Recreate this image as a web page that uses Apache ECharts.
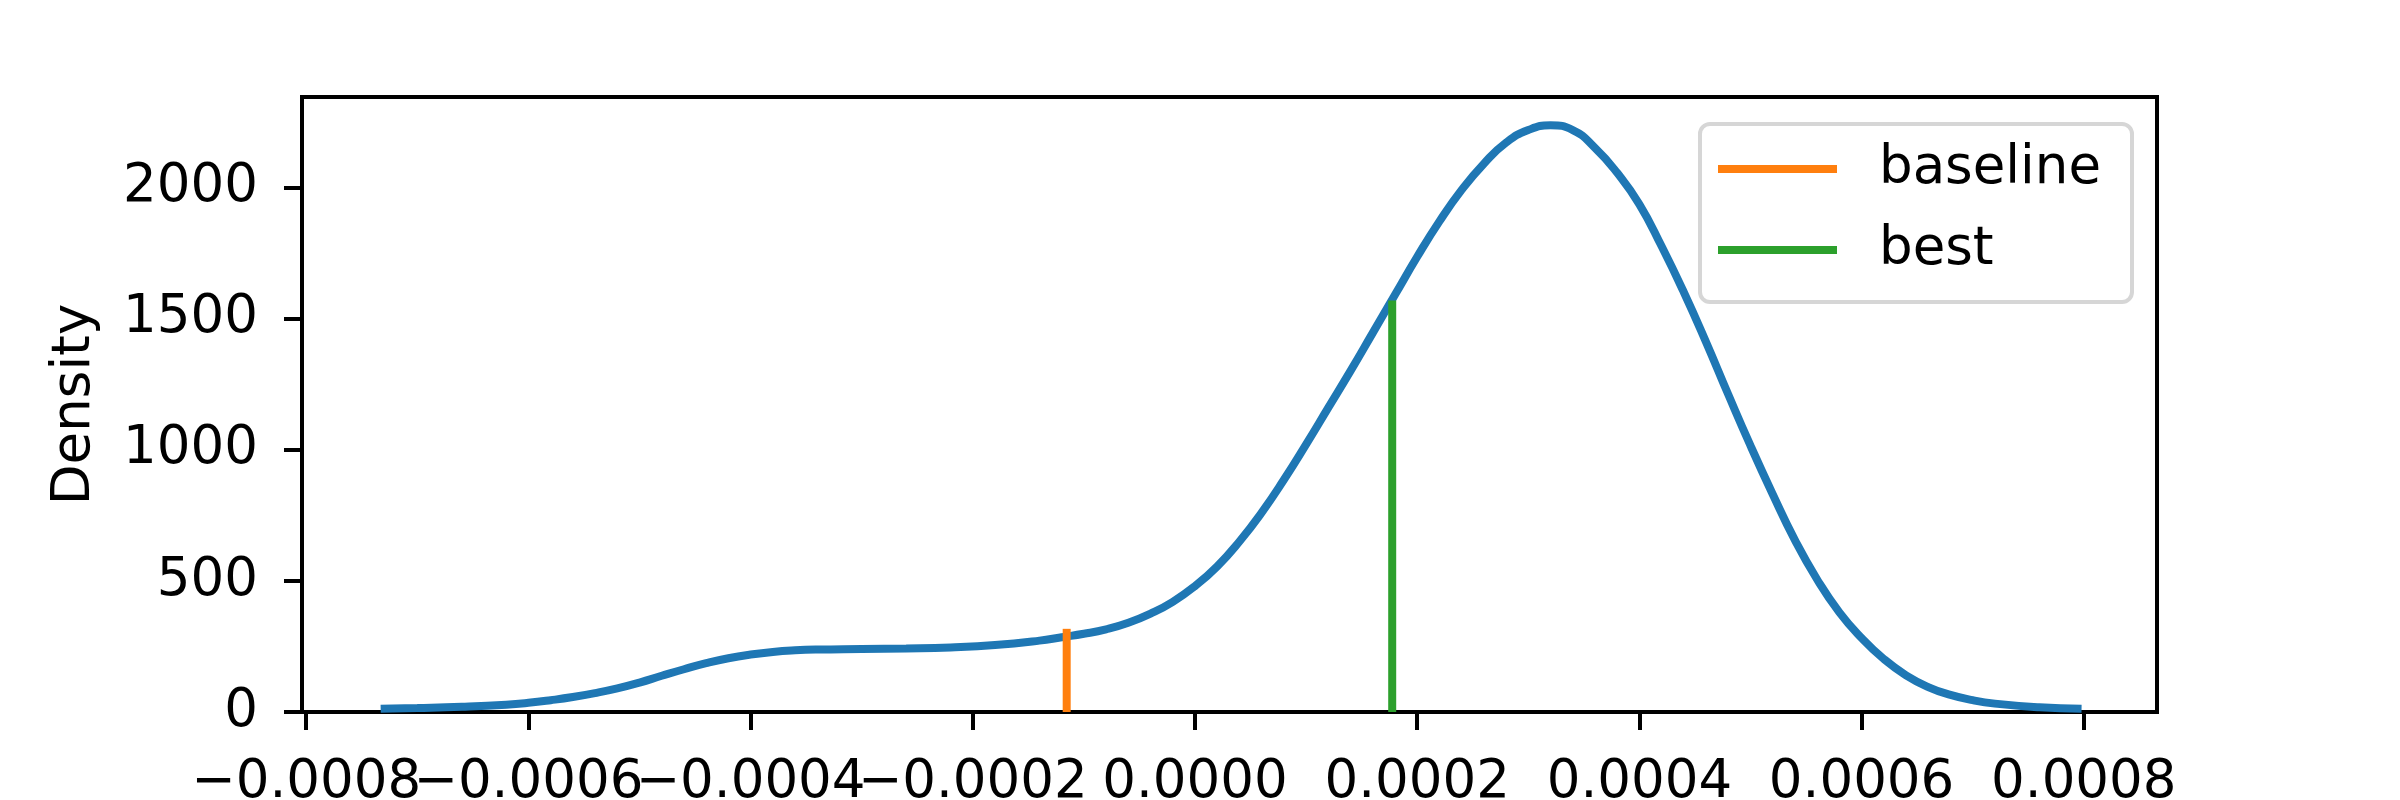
<!DOCTYPE html>
<html>
<head>
<meta charset="utf-8">
<script src="https://cdn.jsdelivr.net/npm/echarts@6/dist/echarts.min.js"></script>
<style>
  html, body { margin: 0; padding: 0; background: #fff; }
  #chart { width: 2400px; height: 800px; }
</style>
</head>
<body>
<div id="chart"></div>
<script>
// ---- data ----
const kdeX = [-0.000733, -0.000700, -0.000660, -0.000620, -0.000600, -0.000580, -0.000560, -0.000540,
  -0.000520, -0.000500, -0.000480, -0.000460, -0.000440, -0.000420, -0.000400, -0.000380, -0.000360,
  -0.000340, -0.000300, -0.000260, -0.000220, -0.000180, -0.000140, -0.000120, -0.000100, -0.000080,
  -0.000060, -0.000040, -0.000020, 0.000000, 0.000020, 0.000040, 0.000060, 0.000080, 0.000100,
  0.000120, 0.000140, 0.000160, 0.000180, 0.000200, 0.000220, 0.000240, 0.000260, 0.000280, 0.000300,
  0.000320, 0.000340, 0.000360, 0.000380, 0.000400, 0.000420, 0.000440, 0.000460, 0.000480, 0.000500,
  0.000520, 0.000540, 0.000560, 0.000580, 0.000600, 0.000620, 0.000640, 0.000660, 0.000680, 0.000700,
  0.000720, 0.000760, 0.000798];
const kdeY = [12, 15, 20, 28, 35, 45, 57, 72,
  90, 112, 138, 163, 186, 205, 219, 229, 235,
  238, 240, 242, 246, 255, 272, 285, 298, 315,
  340, 375, 420, 480, 555, 650, 760, 885, 1020,
  1160, 1300, 1445, 1590, 1735, 1870, 1990, 2090, 2170, 2218,
  2236, 2218, 2150, 2055, 1935, 1775, 1600, 1410, 1210, 1015,
  830, 655, 505, 380, 282, 202, 140, 95, 65, 45,
  32, 18, 12];

const legendNames = ['baseline', 'best'];
const markerX = [-0.0001155, 0.0001775];
const markerTop = [317, 1568];

const xTicks = [-0.0008, -0.0006, -0.0004, -0.0002, 0, 0.0002, 0.0004, 0.0006, 0.0008];
const xTickLabels = ['\u22120.0008', '\u22120.0006', '\u22120.0004', '\u22120.0002', '0.0000',
  '0.0002', '0.0004', '0.0006', '0.0008'];
const yTicks = [0, 500, 1000, 1500, 2000];
const yTickLabels = ['0', '500', '1000', '1500', '2000'];
const yAxisName = 'Density';

// ---- build chart ----
const FONT = 'DejaVu Sans';
const FS = 53;
const X_MIN = -0.0008038, X_MAX = 0.0008659;
const kdePoints = kdeX.map((x, i) => [x, kdeY[i]]);
const markerColors = ['#ff7f0e', '#2ca02c'];

function lookup(ticks, labels, v) {
  const i = ticks.findIndex(t => Math.abs(t - v) < 1e-9 * Math.max(1, Math.abs(t)));
  return i >= 0 ? labels[i] : '';
}

// labels split over two coincident axes so adjacent overlapping labels are not auto-hidden
const xTicksEven = xTicks.filter((_, i) => i % 2 === 0);
const xTicksOdd = xTicks.filter((_, i) => i % 2 === 1);

function xAxisDef(labelValues, showTicks) {
  return {
    type: 'value',
    gridIndex: 0,
    position: 'bottom',
    offset: 0,
    min: X_MIN, max: X_MAX,
    axisLine: { show: false, onZero: false },
    splitLine: { show: false },
    axisTick: { show: showTicks, length: 18, lineStyle: { color: '#000', width: 4 }, customValues: xTicks },
    axisLabel: {
      show: true, customValues: labelValues, interval: 0, hideOverlap: false,
      showMinLabel: true, showMaxLabel: true,
      margin: 44, fontFamily: FONT, fontSize: FS, lineHeight: 54, color: '#000',
      formatter: v => lookup(xTicks, xTickLabels, v)
    }
  };
}

const markerSeries = legendNames.map((name, i) => ({
  name: name,
  type: 'line',
  xAxisIndex: 0,
  data: [[markerX[i], 0], [markerX[i], markerTop[i]]],
  showSymbol: false,
  symbol: 'none',
  lineStyle: { color: markerColors[i], width: 8, cap: 'butt' },
  itemStyle: { color: markerColors[i] },
  z: 3,
  animation: false
}));

const chart = echarts.init(document.getElementById('chart'), null, { renderer: 'canvas' });
chart.setOption({
  animation: false,
  backgroundColor: '#ffffff',
  textStyle: { fontFamily: FONT },
  grid: {
    left: 302, right: 243, top: 97, bottom: 88,
    containLabel: false,
    outerBoundsMode: 'none',
    show: true, borderColor: '#000000', borderWidth: 4, backgroundColor: 'transparent'
  },
  graphic: [{
    type: 'rect',
    z: 3,
    shape: { x: 1700, y: 124, width: 432, height: 178, r: 10 },
    style: { fill: 'rgba(255,255,255,0.8)', stroke: '#d6d6d6', lineWidth: 4 }
  }],
  legend: {
    data: legendNames.map(n => ({ name: n, icon: 'rect' })),
    orient: 'vertical',
    left: 1718, top: 142,
    padding: 0,
    itemWidth: 119, itemHeight: 8, itemGap: 27,
    textStyle: { fontFamily: FONT, fontSize: FS, lineHeight: 54, color: '#000', padding: [0, 0, 0, 37] },
    selectedMode: false,
    z: 4
  },
  xAxis: [xAxisDef(xTicksEven, true), xAxisDef(xTicksOdd, false)],
  yAxis: {
    type: 'value',
    min: 0, max: 2344,
    name: yAxisName,
    nameLocation: 'middle',
    nameGap: 200,
    nameTextStyle: { fontFamily: FONT, fontSize: FS, lineHeight: 54, color: '#000' },
    axisLine: { show: false, onZero: false },
    splitLine: { show: false },
    axisTick: { show: true, length: 18, lineStyle: { color: '#000', width: 4 }, customValues: yTicks },
    axisLabel: {
      show: true, customValues: yTicks, interval: 0,
      showMinLabel: true, showMaxLabel: true,
      margin: 44, padding: [8, 0, 0, 0], fontFamily: FONT, fontSize: FS, lineHeight: 54, color: '#000',
      formatter: v => lookup(yTicks, yTickLabels, v)
    }
  },
  series: [{
    name: 'density',
    type: 'line',
    xAxisIndex: 0,
    data: kdePoints,
    smooth: 0.5,
    showSymbol: false,
    symbol: 'none',
    lineStyle: { color: '#1f77b4', width: 8 },
    itemStyle: { color: '#1f77b4' },
    z: 2
  }].concat(markerSeries)
});
</script>
</body>
</html>
